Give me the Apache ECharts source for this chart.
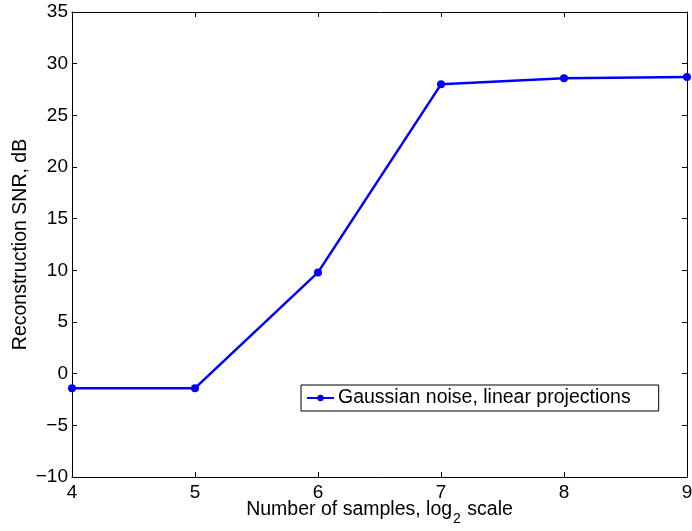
<!DOCTYPE html>
<html><head><meta charset="utf-8">
<script src="https://cdn.jsdelivr.net/npm/echarts@6/dist/echarts.min.js"></script>
<style>html,body{margin:0;padding:0;background:#fff}#c{width:692px;height:531px}</style>
</head><body><div id="c"></div>
<script>
const xValues = [4, 5, 6, 7, 8, 9];
const snrValues = [-1.4, -1.4, 9.8, 28.0, 28.6, 28.7];
const seriesName = 'Gaussian noise, linear projections';
const xTitle = 'Number of samples, log';
const yTitle = 'Reconstruction SNR, dB';

const FONT = 'Liberation Sans, Arial, Helvetica, sans-serif';
const chart = echarts.init(document.getElementById('c'));
const axisCommon = {
  axisLine: {show: true, onZero: false, lineStyle: {color: '#000', width: 1}},
  axisTick: {show: true, inside: true, length: 5, lineStyle: {color: '#000'}},
  splitLine: {show: false}
};
chart.setOption({
  animation: false,
  backgroundColor: '#fff',
  grid: {left: 72, right: 5, top: 12, bottom: 54, containLabel: false, outerBoundsMode: 'none'},
  xAxis: [
    Object.assign({type: 'value', min: 4, max: 9, interval: 1, position: 'bottom',
      axisLabel: {color: '#000', fontSize: 19, fontFamily: FONT, margin: 6},
      name: '{a|' + xTitle + '}{s|2}{a| scale}',
      nameLocation: 'middle', nameGap: 23, nameMoveOverlap: false,
      nameTextStyle: {rich: {
        a: {fontSize: 19.5, fontFamily: FONT, color: '#000', lineHeight: 22, verticalAlign: 'top'},
        s: {fontSize: 14, fontFamily: FONT, color: '#000', lineHeight: 22, verticalAlign: 'top', padding: [12, 1, 0, 1]}
      }}
    }, axisCommon),
    Object.assign({type: 'value', min: 4, max: 9, interval: 1, position: 'top',
      axisLabel: {show: false}}, axisCommon)
  ],
  yAxis: [
    Object.assign({type: 'value', min: -10, max: 35, interval: 5, position: 'left',
      axisLabel: {color: '#000', fontSize: 19, fontFamily: FONT, margin: 4,
        formatter: v => v < 0 ? '\u2212' + Math.abs(v) : String(v)},
      name: yTitle, nameLocation: 'middle', nameGap: 41, nameRotate: 90, nameMoveOverlap: false,
      nameTextStyle: {color: '#000', fontSize: 19.5, fontFamily: FONT}
    }, axisCommon),
    Object.assign({type: 'value', min: -10, max: 35, interval: 5, position: 'right',
      axisLabel: {show: false}}, axisCommon)
  ],
  legend: {
    left: 301, top: 385,
    padding: [3, 28, 3, 5],
    borderColor: '#000', borderWidth: 1, backgroundColor: '#fff',
    itemWidth: 27, itemHeight: 8, itemGap: 4,
    textStyle: {color: '#000', fontSize: 19.5, fontFamily: FONT, lineHeight: 20, padding: [0, 0, 0, -1]},
    data: [{name: seriesName}]
  },
  series: [{
    name: seriesName, type: 'line',
    data: xValues.map((x, i) => [x, snrValues[i]]),
    symbol: 'circle', symbolSize: 8,
    lineStyle: {color: '#0000ff', width: 2.5},
    itemStyle: {color: '#0000ff'},
    clip: false
  }]
});
</script></body></html>
